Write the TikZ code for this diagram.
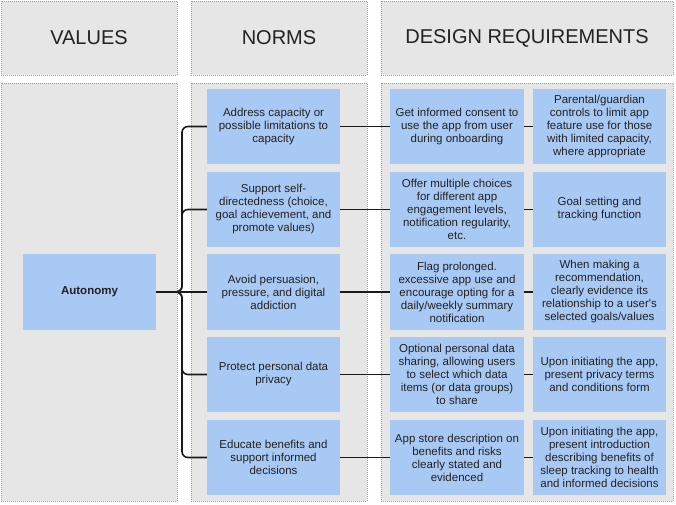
\documentclass[tikz,border=0pt]{standalone}
\usepackage{fontspec}
\setmainfont{Liberation Sans}[Ligatures=TeXOff]
\definecolor{panelfill}{HTML}{E6E6E6}
\definecolor{panelborder}{HTML}{A0A0A0}
\definecolor{boxfill}{HTML}{A8C9F3}
\definecolor{txt}{HTML}{222222}
\definecolor{linec}{HTML}{1A1A1A}
\begin{document}
\begin{tikzpicture}[x=1pt,y=-1pt,
  panel/.style={draw=panelborder, fill=panelfill, line width=0.8pt, dash pattern=on 1pt off 1pt},
  hdr/.style={font=\fontsize{20}{24}\selectfont, text=txt},
  box/.style={fill=boxfill, text=txt, align=center, font=\fontsize{11.5}{13}\selectfont, inner sep=0pt, minimum height=75pt},
  nbox/.style={box, minimum width=133pt},
  dbox/.style={box, minimum width=134pt},
  ebox/.style={box, minimum width=133pt},
  conn/.style={draw=linec, line width=1.6pt, rounded corners=6pt}]
\useasboundingbox (0,0) rectangle (676,504);
% panels
\path[panel] (1,1) rectangle (177,75);
\path[panel] (191,1) rectangle (367,75);
\path[panel] (381,1) rectangle (673,75);
\path[panel] (1,83) rectangle (177,501);
\path[panel] (191,83) rectangle (367,501);
\path[panel] (381,83) rectangle (673,501);
\node[hdr] (hv) at (89,38) {VALUES};
\node[hdr] (hn) at (279,38) {NORMS};
\node[hdr] (hd) at (527,38) {DESIGN REQUIREMENTS};
% values
\node[box, minimum width=133pt, minimum height=76pt, font=\fontsize{11.5}{13}\selectfont\bfseries] (auto) at (89.5,292) {Autonomy};
% norms
\node[nbox] (n1) at (273.5,126.5) {Address capacity or\\possible limitations to\\capacity};
\node[nbox] (n2) at (273.5,209.5) {Support self-\\directedness (choice,\\goal achievement, and\\promote values)};
\node[nbox, minimum height=76pt] (n3) at (273.5,292) {Avoid persuasion,\\pressure, and digital\\addiction};
\node[nbox] (n4) at (273.5,374.5) {Protect personal data\\privacy};
\node[nbox] (n5) at (273.5,457.5) {Educate benefits and\\support informed\\decisions};
% design requirements col 1
\node[dbox] (d1) at (457,126.5) {Get informed consent to\\use the app from user\\during onboarding};
\node[dbox] (d2) at (457,209.5) {Offer multiple choices\\for different app\\engagement levels,\\notification regularity,\\etc.};
\node[dbox, minimum height=76pt] (d3) at (457,292) {Flag prolonged.\\excessive app use and\\encourage opting for a\\daily/weekly summary\\notification};
\node[dbox] (d4) at (457,374.5) {Optional personal data\\sharing, allowing users\\to select which data\\items (or data groups)\\to share};
\node[dbox] (d5) at (457,457.5) {App store description on\\benefits and risks\\clearly stated and\\evidenced};
% design requirements col 2
\node[ebox] (e1) at (599.5,126.5) {Parental/guardian\\controls to limit app\\feature use for those\\with limited capacity,\\where appropriate};
\node[ebox] (e2) at (599.5,209.5) {Goal setting and\\tracking function};
\node[ebox, minimum height=76pt] (e3) at (599.5,292) {When making a\\recommendation,\\clearly evidence its\\relationship to a user's\\selected goals/values};
\node[ebox] (e4) at (599.5,374.5) {Upon initiating the app,\\present privacy terms\\and conditions form};
\node[ebox] (e5) at (599.5,457.5) {Upon initiating the app,\\present introduction\\describing benefits of\\sleep tracking to health\\and informed decisions};
% connectors
\coordinate (t) at (182,292);
\draw[conn] (auto.east) -- (t) |- (n1.west);
\draw[conn] (auto.east) -- (t) |- (n2.west);
\draw[conn] (auto.east) -- (n3.west);
\draw[conn] (auto.east) -- (t) |- (n4.west);
\draw[conn] (auto.east) -- (t) |- (n5.west);
\foreach \i in {1,...,5}{
  \draw[conn] (n\i.east) -- (d\i.west);
  \draw[conn] (d\i.east) -- (e\i.west);
}
\end{tikzpicture}
\end{document}
